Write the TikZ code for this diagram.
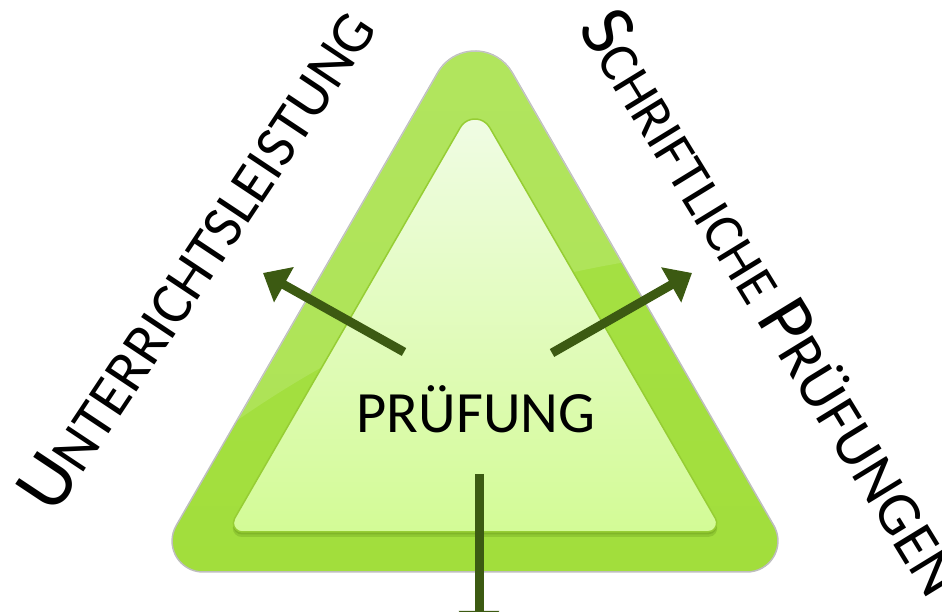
\documentclass[tikz,border=0pt]{standalone}
\usepackage{fontspec}
\setmainfont{Carlito}
\usetikzlibrary{arrows.meta,calc}
\definecolor{outergreen}{RGB}{162,222,60}
\definecolor{outertop}{RGB}{166,226,70}
\definecolor{innertop}{RGB}{240,252,228}
\definecolor{innerbot}{RGB}{211,251,150}
\definecolor{innerrim}{RGB}{150,205,52}
\definecolor{shadowgreen}{RGB}{110,160,30}
\definecolor{bordergray}{RGB}{190,190,190}
\definecolor{arrowcol}{RGB}{60,90,18}
% rounded equilateral triangle: #1 centre x, #2 sharp apex y, #3 base y, #4 apex radius, #5 base radius
\newcommand{\rtripath}[5]{%
 ({#1-(#2-#3)/sqrt(3)+2*#5*cos(30)+#5*cos(150)},{#3+#5+#5*sin(150)})
 -- ({#1+#4*cos(150)},{#2-2*#4+#4*sin(150)})
 arc[start angle=150,end angle=30,radius=#4]
 -- ({#1+(#2-#3)/sqrt(3)-2*#5*cos(30)+#5*cos(30)},{#3+#5+#5*sin(30)})
 arc[start angle=30,end angle=-90,radius=#5]
 -- ({#1-(#2-#3)/sqrt(3)+2*#5*cos(30)},{#3})
 arc[start angle=-90,end angle=-210,radius=#5] -- cycle}
\newcommand{\capbig}{\fontsize{78}{78}\selectfont}
\newcommand{\capsmall}[1]{\fontsize{#1}{#1}\selectfont}
\tikzset{
  pfeil/.style={draw=arrowcol, line width=9pt, -{Triangle[length=24pt,width=39pt]}},
  label/.style={anchor=base west, inner sep=0pt, text=black},
}
\begin{document}
\begin{tikzpicture}[x=1pt,y=1pt]
\useasboundingbox (0,0) rectangle (942,612);
\begin{scope}
\clip (0,0) rectangle (942,612);
% outer triangle
\shade[top color=outertop, bottom color=outergreen, draw=bordergray, line width=1.5pt]
  \rtripath{475}{604}{40}{43}{31};
% gloss
\begin{scope}
  \clip \rtripath{475}{604}{40}{43}{31};
  \fill[white, opacity=0.13] (180,150) .. controls (330,265) and (480,340) .. (720,362)
     -- (720,650) -- (180,650) -- cycle;
\end{scope}
% inner shadow
\fill[shadowgreen, opacity=0.35] \rtripath{475}{506}{75}{17}{9};
\fill[shadowgreen, opacity=0.45] \rtripath{475}{508}{77.5}{17}{9};
% inner triangle
\shade[top color=innertop, bottom color=innerbot, draw=innerrim, line width=1.5pt]
  \rtripath{475}{510}{80}{17}{9};
% arrows
\coordinate (lt) at (404,260);
\coordinate (lh) at (263,339);
\coordinate (rt) at (552,259);
\coordinate (rh) at (692,339);
\coordinate (bt) at (479,138);
\coordinate (bh) at (479,-23);
\draw[pfeil] (lt) -- (lh);
\draw[pfeil] (rt) -- (rh);
\draw[pfeil] (bt) -- (bh);
% texts
\node[anchor=base, inner sep=0pt, font=\fontsize{58.5}{58.5}\selectfont] (pruefung) at (476,179) {PRÜFUNG};
\node[label, rotate=56.4] (unterricht) at (54,95)
  {{\capbig U}{\capsmall{59}NTERRICHTSLEISTUNG}};
\node[label, rotate=-58.5] (schrift) at (577,584)
  {{\capbig S}{\capsmall{56}CHRIFTLICHE }{\capbig P}{\capsmall{62}RÜFUNGEN}};
\end{scope}
\end{tikzpicture}
\end{document}
